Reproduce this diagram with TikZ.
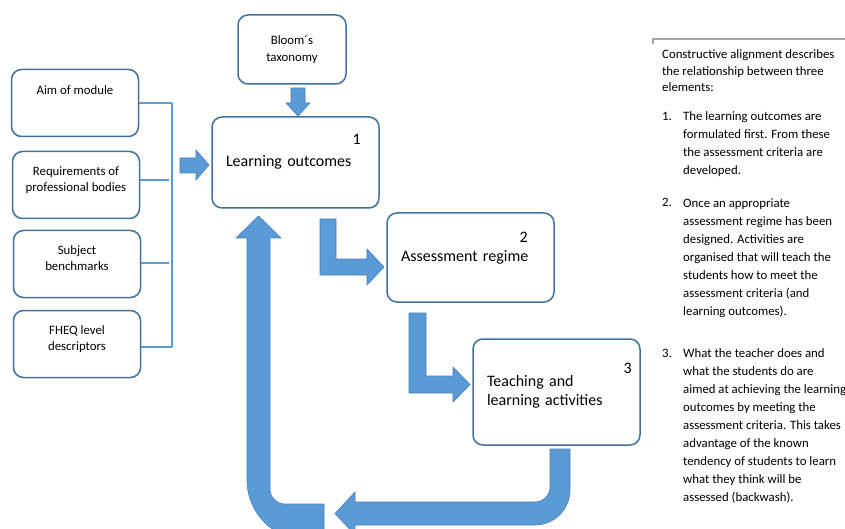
\documentclass[tikz,border=0pt]{standalone}
\usepackage{fontspec}
\setmainfont{Carlito}
\definecolor{boxline}{RGB}{65,113,156}
\definecolor{arrowblue}{RGB}{91,155,213}
\definecolor{arrowedge}{RGB}{72,128,188}
\definecolor{framegray}{RGB}{165,165,165}
\tikzset{smallbox/.style = {draw=boxline, line width=1.5, rounded corners=10, minimum width=127, minimum height=67, inner sep=0}}
\tikzset{smalltext/.style = {align=center, inner sep=0, font=\fontsize{12.8}{16.5}\selectfont}}
\tikzset{bigbox/.style = {draw=boxline, line width=1.5, rounded corners=10, minimum width=167, text width=139, inner xsep=14, align=left, font=\fontsize{16}{19.5}\selectfont}}
\tikzset{numlabel/.style = {inner sep=0, font=\fontsize{16}{19.5}\selectfont}}
\tikzset{blockarrow/.style = {fill=arrowblue, draw=arrowedge, line width=0.6, line join=miter}}
\tikzset{feeder/.style = {draw=arrowblue, line width=2}}
\tikzset{bus/.style = {draw=arrowblue, line width=1.2}}
\tikzset{notes/.style = {anchor=base west, align=left, inner sep=0, font=\fontsize{12.8}{18}\selectfont}}

\begin{document}
\begin{tikzpicture}[x=1pt, y=-1pt]
      \useasboundingbox (0, 0) rectangle (845, 529);
      \clip (0, 0) rectangle (845, 529);
      % inputs on the left
      \foreach \name/\cx/\cy/\up/\txt in {aim/75/103/13/{Aim of module}, req/76/185/5/{Requirements of\\professional bodies}, subj/77/264/6/{Subject\\benchmarks}, fheq/77/344/5/{FHEQ level\\descriptors}} {
        \node [smallbox] (\name) at (\cx, \cy) {};
        \node [smalltext] at ([yshift=\up]\name.center) {\txt};
      }
      \coordinate (bus top) at (172, 103);
      \coordinate (bus end) at (172, 347);
      \draw [feeder] (aim.east) -- (aim.east -| bus top);
      \draw [feeder] ([yshift=5]req.east) -- ++(29, 0);
      \draw [feeder] ([yshift=1]subj.east) -- ++(28, 0);
      \draw [feeder] ([yshift=-3]fheq.east) -- ([yshift=-3]fheq.east -| bus end);
      \draw [bus] (bus top) -- (bus end);
      \node [smallbox, minimum width=108, minimum height=69, smalltext] (bloom) at (292, 49.5) {Bloom´s\\taxonomy};
      % the three stages
      \node [bigbox, minimum height=91] (lo) at (295.5, 162.5) {Learning outcomes};
      \node [bigbox, minimum height=89] (ar) at (470.5, 257.5) {Assessment regime};
      \node [bigbox, minimum height=106] (tla) at (556.5, 392) {Teaching and\\learning activities};
      \node [numlabel] (one) at ([xshift=-23, yshift=-23]lo.north east) {1};
      \node [numlabel] (two) at ([xshift=-31, yshift=-25]ar.north east) {2};
      \node [numlabel] (three) at ([xshift=-13, yshift=-30]tla.north east) {3};
      % block arrows
      \draw [blockarrow] (291, 88) -- (305, 88) -- (305, 103) -- (310, 103) -- (298, 116) -- (286, 103) -- (291, 103) -- cycle;
      \draw [blockarrow] (180, 158) -- (196, 158) -- (196, 150) -- (209, 165) -- (196, 180) -- (196, 173) -- (180, 173) -- cycle;
      \draw [blockarrow] (320, 219) -- (336, 219) -- (336, 259) -- (367, 259) -- (367, 249) -- (384, 267) -- (367, 285) -- (367, 275) -- (320, 275) -- cycle;
      \draw [blockarrow] (409, 313) -- (426, 313) -- (426, 376) -- (453, 376) -- (453, 367) -- (470, 384.5) -- (453, 402) -- (453, 393) -- (409, 393) -- cycle;
      \draw [blockarrow] (550, 449) [rounded corners=15] -- (550, 502) [sharp corners] -- (355, 502) -- (355, 492) -- (335, 513.5) -- (355, 535) -- (355, 525) [rounded corners=35] -- (570, 525) [sharp corners] -- (570, 449) -- cycle;
      \draw [blockarrow] (324, 504) [rounded corners=15] -- (270, 504) [sharp corners] -- (270, 238) -- (281, 238) -- (258.5, 216) -- (236, 238) -- (247, 238) [rounded corners=60] -- (247, 540) [sharp corners] -- (324, 540) -- cycle;
      % notes on the right
      \draw [framegray, line width=1.5] (653, 44) -- (653, 39) -- (845, 39);
      \node [notes, font=\fontsize{12.8}{16.5}\selectfont] (intro) at (662, 92) {Constructive alignment describes\\the relationship between three\\elements:};
      \node [notes] (n1) at (662, 121) {1.};
      \node [notes] (item1) at (683, 175) {The learning outcomes are\\formulated first. From these\\the assessment criteria are\\developed.};
      \node [notes] (n2) at (662, 207) {2.};
      \node [notes] (item2) at (683, 315) {Once an appropriate\\assessment regime has been\\designed. Activities are\\organised that will teach the\\students how to meet the\\assessment criteria (and\\learning outcomes).};
      \node [notes] (n3) at (662, 357) {3.};
      \node [notes] (item3) at (683, 501) {What the teacher does and\\what the students do are\\aimed at achieving the learning\\outcomes by meeting the\\assessment criteria. This takes\\advantage of the known\\tendency of students to learn\\what they think will be\\assessed (backwash).};
\end{tikzpicture}
\end{document}
